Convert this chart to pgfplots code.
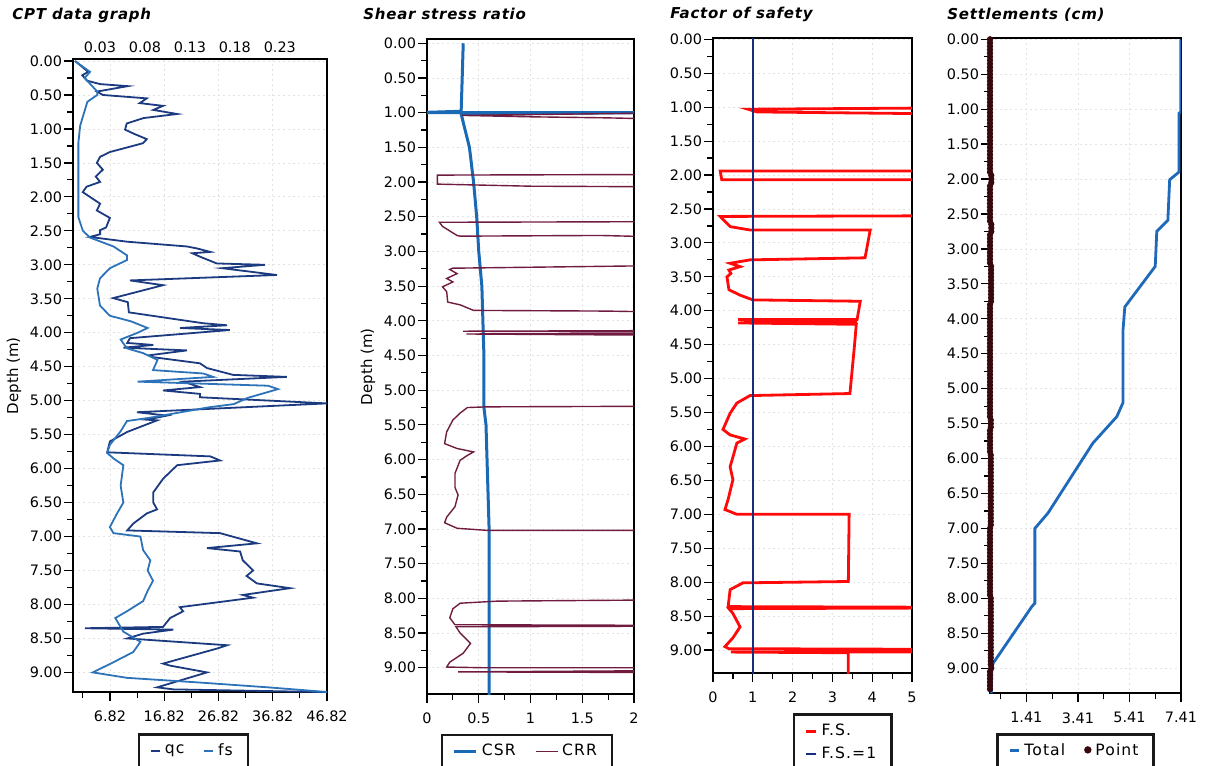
\documentclass[border=0pt]{standalone}
\usepackage{fontspec}
\setmainfont{DejaVu Sans}
\newfontfamily\titlefont[LetterSpace=5]{DejaVu Sans}
\newfontfamily\legfont[LetterSpace=7]{DejaVu Sans}
\usepackage{pgfplots}
\pgfplotsset{compat=1.18}

\definecolor{qcc}{RGB}{28,58,128}
\definecolor{fsc}{RGB}{45,115,185}
\definecolor{csrc}{RGB}{25,105,180}
\definecolor{crrc}{RGB}{112,28,64}
\definecolor{fsred}{RGB}{255,10,10}
\definecolor{fsone}{RGB}{25,45,125}
\definecolor{totc}{RGB}{30,105,185}
\definecolor{ptc}{RGB}{55,8,14}

\pgfplotsset{
  legstyle/.style={legend cell align=left, legend style={draw=black!90, line width=1.2pt, fill=white,
      font=\legfont\fontsize{7.8}{9.5}\selectfont, anchor=north,
      inner xsep=5.5pt, inner ysep=2.5pt,
      /tikz/every even column/.append style={column sep=7.5pt}}},
  depthaxis/.style={
    scale only axis, anchor=north west, y dir=reverse,
    axis line style={line width=0.9pt},
    tick align=outside, tick pos=left,
    ytick={0,0.5,1,1.5,2,2.5,3,3.5,4,4.5,5,5.5,6,6.5,7,7.5,8,8.5,9},
    minor y tick num=1,
    major tick length=4.5pt, minor tick length=3pt,
    every tick/.style={black, line width=0.6pt},
    grid=major,
    major grid style={draw=gray!22, dash pattern=on 1pt off 1.5pt},
    tick label style={font=\fontsize{7.2}{8}\selectfont},
    yticklabel style={inner xsep=0.8pt, /pgf/number format/.cd, fixed, fixed zerofill, precision=2, assume math mode=true},
    xticklabel style={yshift=-1.5pt},
    ylabel style={font=\fontsize{7.5}{9}\selectfont},
    legstyle,
  },
}

\begin{document}
\begin{tikzpicture}
\path[use as bounding box] (0,0) rectangle (604pt,-382.5pt);

% titles
\node[anchor=west, inner sep=0] at (6pt,-7.5pt) {\titlefont\fontsize{7.5}{9}\selectfont\bfseries\itshape CPT data graph};
\node[anchor=west, inner sep=0] at (181.5pt,-7.2pt) {\titlefont\fontsize{7.5}{9}\selectfont\bfseries\itshape Shear stress ratio};
\node[anchor=west, inner sep=0] at (335pt,-7.2pt) {\titlefont\fontsize{7.5}{9}\selectfont\bfseries\itshape Factor of safety};
\node[anchor=west, inner sep=0] at (473.5pt,-7.2pt) {\titlefont\fontsize{7.5}{9}\selectfont\bfseries\itshape Settlements (cm)};

% ---------- Panel 1: CPT data graph (qc, bottom axis) ----------
\begin{axis}[depthaxis, at={(36.5pt,-29.65pt)}, width=127pt, height=316.4pt,
  xmin=0, xmax=46.82, ymin=-0.025, ymax=9.29,
  xtick={6.82,16.82,26.82,36.82,46.82},
  xticklabels={6.82,16.82,26.82,36.82,46.82},
  minor xtick={1.82,11.82,21.82,31.82,41.82},
  ylabel={Depth (m)}]
\addplot[qcc, line width=0.9pt] coordinates {
(0.4,0.00)(2.8,0.16)(1.7,0.21)(2.6,0.29)(5.0,0.34)(10.1,0.37)(4.4,0.45)(5.5,0.50)
(13.6,0.55)(12.3,0.62)(16.6,0.66)(14.8,0.72)(19.2,0.78)(13.0,0.84)(9.9,0.92)(9.6,1.01)
(11.2,1.07)(13.6,1.15)(12.9,1.21)(6.8,1.34)(5.0,1.41)(4.4,1.50)(5.5,1.60)(4.2,1.70)
(5.0,1.78)(2.5,1.85)(1.8,1.93)(5.0,2.10)(4.4,2.20)(6.8,2.31)(6.1,2.45)(5.0,2.49)
(5.0,2.55)(3.1,2.59)(10.0,2.66)(21.0,2.73)(22.9,2.76)(25.3,2.81)(22.0,2.83)(23.4,2.88)
(26.5,2.98)(35.4,3.00)(27.5,3.05)(37.6,3.15)(10.5,3.23)(16.6,3.30)(7.4,3.49)(10.1,3.55)
(10.3,3.70)(19.7,3.81)(24.0,3.86)(28.4,3.89)(19.7,3.93)(28.9,3.96)(10.5,4.08)(10.0,4.15)
(14.8,4.18)(9.3,4.22)(21.0,4.26)(14.2,4.33)(14.8,4.36)(23.4,4.45)(24.7,4.52)(29.5,4.62)
(39.4,4.65)(20.3,4.72)(23.4,4.80)(16.6,4.85)(23.4,4.90)(23.4,4.95)(46.8,5.04)(11.8,5.17)
(17.3,5.22)(13.6,5.28)(15.5,5.29)(10.0,5.46)(6.8,5.60)(6.3,5.76)(25.3,5.82)(27.1,5.88)
(19.2,5.95)(16.6,6.15)(14.8,6.35)(14.8,6.50)(15.5,6.60)(13.6,6.66)(11.1,6.81)(10.0,6.91)
(27.1,6.95)(33.9,7.10)(24.7,7.17)(30.8,7.22)(31.3,7.35)(33.2,7.50)(32.0,7.58)(33.9,7.69)
(40.0,7.76)(31.3,7.86)(33.2,7.90)(19.7,8.04)(20.3,8.10)(17.9,8.20)(16.6,8.33)(2.2,8.35)
(18.5,8.37)(12.9,8.43)(10.0,8.50)(28.4,8.60)(26.5,8.65)(16.6,8.87)(17.9,8.90)(24.7,9.00)
(15.5,9.22)(18.5,9.25)(46.8,9.29)};
\end{axis}
% ---------- Panel 1: fs (top axis) ----------
\begin{axis}[scale only axis, anchor=north west, at={(36.5pt,-29.65pt)}, width=127pt, height=316.4pt,
  y dir=reverse, ymin=-0.025, ymax=9.29, xmin=0, xmax=0.2825,
  axis x line*=top, axis y line=none,
  axis line style={line width=0.9pt},
  xtick={0.03,0.08,0.13,0.18,0.23}, xticklabels={0.03,0.08,0.13,0.18,0.23},
  major tick length=0pt,
  tick label style={font=\fontsize{7.2}{8}\selectfont},
  legstyle,
  legend style={at={(0.474,-0.065)}},
  legend columns=2,
  legend image code/.code={\draw[#1] (0pt,0pt) -- (4.5pt,0pt);}]
\addlegendimage{qcc, line width=0.9pt}
\addlegendentry{qc}
\addplot[fsc, line width=0.9pt] coordinates {
(0.002,0.00)(0.019,0.16)(0.013,0.25)(0.027,0.45)(0.027,0.50)(0.016,0.60)(0.008,0.95)
(0.006,1.20)(0.006,2.00)(0.006,2.30)(0.011,2.50)(0.019,2.60)(0.045,2.73)(0.060,2.86)
(0.060,2.93)(0.041,3.05)(0.030,3.20)(0.027,3.35)(0.030,3.60)(0.041,3.75)(0.064,3.83)
(0.083,3.93)(0.072,4.00)(0.053,4.10)(0.060,4.23)(0.078,4.30)(0.094,4.40)(0.089,4.55)
(0.145,4.60)(0.156,4.65)(0.072,4.72)(0.217,4.78)(0.228,4.83)(0.194,4.96)(0.179,5.05)
(0.150,5.10)(0.086,5.25)(0.060,5.30)(0.053,5.45)(0.041,5.65)(0.038,5.77)(0.045,5.85)
(0.056,5.95)(0.053,6.25)(0.056,6.50)(0.049,6.66)(0.041,6.86)(0.045,6.95)(0.075,7.00)
(0.078,7.20)(0.086,7.35)(0.083,7.50)(0.089,7.65)(0.083,7.80)(0.078,7.95)(0.060,8.10)
(0.047,8.20)(0.056,8.40)(0.075,8.55)(0.067,8.70)(0.045,8.85)(0.022,9.00)(0.060,9.08)
(0.142,9.15)(0.217,9.22)(0.284,9.29)};
\addlegendentry{fs}
\end{axis}

% ---------- Panel 2: Shear stress ratio ----------
\begin{axis}[depthaxis, at={(213.5pt,-19.65pt)}, width=103.5pt, height=327.4pt,
  xmin=0, xmax=2, ymin=-0.057, ymax=9.38,
  xtick={0,0.5,1,1.5,2}, xticklabels={0,0.5,1,1.5,2}, minor x tick num=1,
  ylabel={Depth (m)},
  legend columns=2,
  legend style={at={(0.483,-0.061)}},
  legend image code/.code={\draw[#1] (0pt,0pt) -- (11pt,0pt);}]
\addplot[csrc, line width=1.5pt] coordinates {
(0.35,0.00)(0.34,0.50)(0.33,0.98)(-0.1,1.00)(2.1,1.00)(0.33,1.02)(0.41,1.50)(0.45,2.00)
(0.48,2.50)(0.50,3.00)(0.53,3.50)(0.54,4.00)(0.55,4.50)(0.55,5.25)(0.57,5.50)(0.58,6.00)
(0.59,6.50)(0.60,7.00)(0.60,9.40)};
\addlegendentry{CSR}
\addplot[crrc, line width=0.7pt] coordinates {
(2.5,0.00)(2.5,1.00)(0.34,1.04)(1.00,1.06)(1.74,1.075)(2.5,1.10)(2.5,1.89)(0.10,1.90)
(0.10,2.03)(1.00,2.06)(2.5,2.07)(2.5,2.57)(0.12,2.58)(0.15,2.64)(0.29,2.77)(0.32,2.78)
(1.67,2.77)(2.5,2.80)(2.5,3.20)(0.35,3.24)(0.25,3.24)(0.22,3.26)(0.29,3.32)(0.19,3.39)
(0.25,3.44)(0.15,3.51)(0.19,3.58)(0.20,3.73)(0.32,3.77)(0.45,3.85)(1.74,3.86)(2.5,3.88)
(2.5,4.14)(0.35,4.15)(2.5,4.16)(2.5,4.18)(0.38,4.19)(2.5,4.21)(2.5,5.23)(0.58,5.24)
(0.39,5.25)(0.32,5.33)(0.25,5.43)(0.19,5.60)(0.17,5.77)(0.29,5.84)(0.45,5.89)(0.39,5.94)
(0.32,6.01)(0.27,6.20)(0.27,6.40)(0.30,6.51)(0.27,6.68)(0.19,6.83)(0.17,6.91)(0.29,6.99)
(0.58,7.02)(2.5,7.02)(2.5,8.02)(0.68,8.04)(0.32,8.07)(0.25,8.15)(0.22,8.28)(0.27,8.38)
(2.5,8.39)(2.5,8.40)(0.28,8.41)(0.32,8.50)(0.42,8.65)(0.35,8.79)(0.22,8.92)(0.19,8.99)
(0.54,9.00)(2.5,9.00)(2.5,9.04)(0.30,9.06)(2.5,9.07)(2.5,9.40)};
\addlegendentry{CRR}
\end{axis}

% ---------- Panel 3: Factor of safety ----------
\begin{axis}[depthaxis, at={(356.5pt,-19.15pt)}, width=99.5pt, height=317.4pt,
  xmin=0, xmax=5, ymin=-0.015, ymax=9.34,
  xtick={0,1,2,3,4,5}, xticklabels={0,1,2,3,4,5}, minor x tick num=1,
  legend columns=1,
  legend style={at={(0.651,-0.063)}, inner ysep=3pt},
  legend image code/.code={\draw[#1] (0pt,0pt) -- (5pt,0pt);}]
\addplot[fsred, line width=1.4pt] coordinates {
(6,0.00)(6,1.01)(0.88,1.03)(1.1,1.07)(6,1.10)(6,1.94)(0.18,1.94)(0.22,2.07)(6,2.07)
(6,2.60)(0.18,2.61)(0.43,2.76)(0.93,2.81)(3.95,2.81)(3.82,3.22)(0.93,3.25)(0.43,3.30)
(0.68,3.35)(0.40,3.40)(0.45,3.45)(0.35,3.50)(0.40,3.69)(0.68,3.77)(1.00,3.84)(3.70,3.86)
(3.62,4.13)(0.63,4.13)(3.62,4.16)(0.63,4.18)(3.60,4.20)(3.55,4.54)(3.44,5.22)(0.93,5.25)
(0.60,5.36)(0.43,5.51)(0.25,5.75)(0.43,5.83)(0.80,5.89)(0.60,5.95)(0.43,6.30)(0.50,6.49)
(0.38,6.78)(0.30,6.93)(0.60,7.00)(3.42,7.00)(3.40,7.99)(0.75,8.01)(0.43,8.11)(0.38,8.36)
(6,8.37)(6,8.38)(0.40,8.39)(0.50,8.46)(0.68,8.66)(0.50,8.82)(0.30,8.95)(0.40,8.98)
(6,8.99)(6,9.03)(0.45,9.03)(3.40,9.04)(3.40,9.40)};
\addlegendentry{F.S.}
\addplot[fsone, line width=0.7pt] coordinates {(1,-0.1)(1,9.4)};
\addlegendentry{F.S.=1}
\end{axis}

% ---------- Panel 4: Settlements ----------
\begin{axis}[depthaxis, at={(495pt,-19.15pt)}, width=95.5pt, height=327.5pt,
  xmin=0, xmax=7.41, ymin=-0.014, ymax=9.36,
  xtick={1.41,3.41,5.41,7.41}, xticklabels={1.41,3.41,5.41,7.41},
  minor xtick={0.41,2.41,4.41,6.41},
  legend columns=2,
  legend style={at={(0.448,-0.061)}},
  legend image code/.code={\draw[#1] (0pt,0pt) -- (4.5pt,0pt);}]
\addplot[totc, line width=1.4pt] coordinates {
(7.40,0.00)(7.40,1.04)(7.33,1.06)(7.33,1.90)(6.97,2.01)(6.90,2.59)(6.47,2.75)(6.41,3.25)
(5.23,3.83)(5.16,4.16)(5.16,5.20)(4.92,5.40)(3.99,5.78)(2.25,6.78)(1.74,7.00)(1.74,8.07)
(1.62,8.12)(0.12,8.93)(0.07,9.02)(0.05,9.36)};
\addlegendentry{Total}
\addplot[only marks, mark=*, mark size=1.35pt, ptc, mark options={draw=ptc, fill=ptc},
  legend image code/.code={\fill[ptc] (2pt,0.5pt) circle (1.2pt);}] coordinates {
(0,0.00)(0,0.05)(0,0.10)(0,0.15)(0,0.20)(0,0.25)(0,0.30)(0,0.35)(0,0.40)(0,0.45)
(0,0.50)(0,0.55)(0,0.60)(0,0.65)(0,0.70)(0,0.75)(0,0.80)(0,0.85)(0,0.90)(0,0.95)
(0,1.00)(0,1.05)(0,1.10)(0,1.15)(0,1.20)(0,1.25)(0,1.30)(0,1.35)(0,1.40)(0,1.45)
(0,1.50)(0,1.55)(0,1.60)(0,1.65)(0,1.70)(0,1.75)(0,1.80)(0,1.85)(0,1.90)(0.05,1.95)
(0.05,2.00)(0.05,2.05)(0,2.10)(0,2.15)(0,2.20)(0,2.25)(0,2.30)(0,2.35)(0,2.40)(0,2.45)
(0,2.50)(0,2.55)(0,2.60)(0.05,2.65)(0.05,2.70)(0.05,2.75)(0,2.80)(0,2.85)(0,2.90)(0,2.95)
(0,3.00)(0,3.05)(0,3.10)(0,3.15)(0,3.20)(0.04,3.25)(0.04,3.30)(0.04,3.35)(0.04,3.40)(0.04,3.45)
(0.04,3.50)(0.04,3.55)(0.04,3.60)(0.04,3.65)(0.04,3.70)(0.04,3.75)(0,3.80)(0,3.85)(0,3.90)(0,3.95)
(0,4.00)(0,4.05)(0,4.10)(0,4.15)(0,4.20)(0,4.25)(0,4.30)(0,4.35)(0,4.40)(0,4.45)
(0,4.50)(0,4.55)(0,4.60)(0,4.65)(0,4.70)(0,4.75)(0,4.80)(0,4.85)(0,4.90)(0,4.95)
(0,5.00)(0,5.05)(0,5.10)(0,5.15)(0,5.20)(0,5.25)(0,5.30)(0,5.35)(0,5.40)(0.03,5.45)
(0.03,5.50)(0.03,5.55)(0,5.60)(0,5.65)(0,5.70)(0,5.75)(0,5.80)(0,5.85)(0,5.90)(0.03,5.95)
(0.03,6.00)(0.03,6.05)(0.03,6.10)(0.03,6.15)(0.03,6.20)(0.03,6.25)(0.03,6.30)(0.03,6.35)(0.03,6.40)(0.03,6.45)
(0.03,6.50)(0.03,6.55)(0.03,6.60)(0.03,6.65)(0.03,6.70)(0.03,6.75)(0.03,6.80)(0.03,6.85)(0.03,6.90)(0.03,6.95)
(0,7.00)(0,7.05)(0,7.10)(0,7.15)(0,7.20)(0,7.25)(0,7.30)(0,7.35)(0,7.40)(0,7.45)
(0,7.50)(0,7.55)(0,7.60)(0,7.65)(0,7.70)(0,7.75)(0,7.80)(0,7.85)(0,7.90)(0,7.95)
(0.03,8.00)(0.03,8.05)(0.03,8.10)(0.03,8.15)(0.03,8.20)(0.03,8.25)(0.03,8.30)(0.03,8.35)(0.03,8.40)(0.03,8.45)
(0.03,8.50)(0.03,8.55)(0.03,8.60)(0.03,8.65)(0.03,8.70)(0.03,8.75)(0.03,8.80)(0.03,8.85)(0.03,8.90)(0.03,8.95)
(0.05,9.00)(0,9.05)(0,9.10)(0,9.15)(0,9.20)(0,9.25)(0,9.30)};
\addlegendentry{Point}
\end{axis}
\end{tikzpicture}
\end{document}
